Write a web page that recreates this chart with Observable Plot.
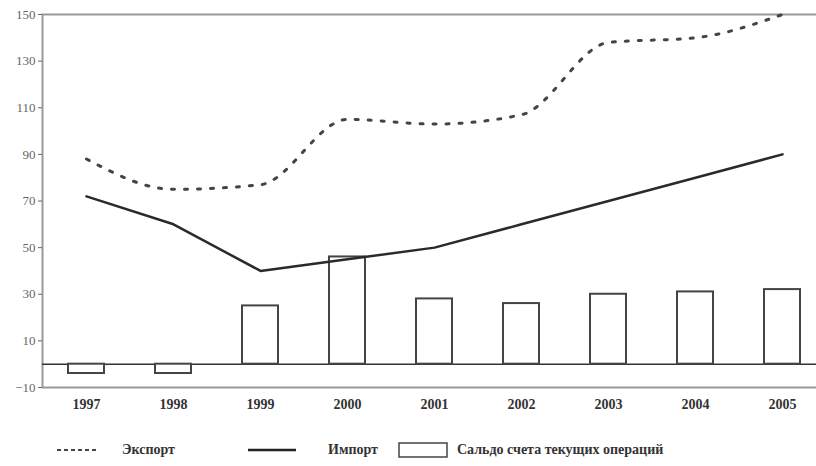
<!DOCTYPE html>
<html><head><meta charset="utf-8">
<script src="https://cdn.jsdelivr.net/npm/d3@7"></script>
<script src="https://cdn.jsdelivr.net/npm/@observablehq/plot@0.6"></script>
<style>
html,body{margin:0;padding:0;background:#fff;overflow:hidden;width:816px;height:466px}
#wrap{position:relative;width:816px;height:466px;overflow:hidden}
#legend{position:absolute;top:425px;left:0;width:816px;height:41px;font-family:"Liberation Serif",serif;font-weight:bold;font-size:14px;color:#333}
#legend .it{position:absolute;top:17px;line-height:16px;white-space:nowrap}
#legend svg{position:absolute;overflow:visible}
</style></head><body>
<div id="wrap"><div id="chart"></div><div id="legend"></div></div>
<script>
const years = ["1997","1998","1999","2000","2001","2002","2003","2004","2005"];
const exportValues = [88, 75, 77, 105, 103, 107, 138, 140, 150];
const importValues = [72, 60, 40, 45, 50, 60, 70, 80, 90];
const balanceValues = [-4, -4, 25, 46, 28, 26, 30, 31, 32];
const yTicks = [-10, 10, 30, 50, 70, 90, 110, 130, 150];
const legendLabels = ["Экспорт", "Импорт", "Сальдо счета текущих операций"];

const rows = years.map((year, i) => ({year, exp: exportValues[i], imp: importValues[i], bal: balanceValues[i]}));

const plot = Plot.plot({
  width: 816, height: 425,
  marginLeft: 42, marginRight: -9, marginTop: 14, marginBottom: 38,
  style: {fontFamily: "Liberation Serif, serif", background: "transparent"},
  x: {type: "band", domain: years, paddingInner: 0.59, paddingOuter: 0.295, label: null},
  y: {domain: [-10, 150], label: null},
  marks: [
    Plot.frame({stroke: "#999", strokeWidth: 2}),
    Plot.ruleY([0], {stroke: "#333", strokeWidth: 1.5}),
    Plot.barY(rows, {x: "year", y: "bal", fill: "white", stroke: "#444", strokeWidth: 2}),
    Plot.line(rows, {x: "year", y: "imp", stroke: "#2a2a2a", strokeWidth: 2.5}),
    Plot.line(rows, {x: "year", y: "exp", stroke: "#444", strokeWidth: 3, strokeDasharray: "3,10", curve: "monotone-x"}),
    Plot.axisY({ticks: yTicks, tickSize: 4, tickPadding: 3, fontSize: 13, color: "#666", label: null}),
    Plot.axisX({tickSize: 0, tickPadding: 12, fontSize: 14, fontWeight: "bold", color: "#333", label: null})
  ]
});
document.getElementById("chart").appendChild(plot);

const lg = document.getElementById("legend");
lg.innerHTML = `
<svg style="left:57px;top:25px" width="42" height="1"><line x1="0" y1="0" x2="42" y2="0" stroke="#444" stroke-width="2" stroke-dasharray="4,3"/></svg>
<div class="it" style="left:122px">${legendLabels[0]}</div>
<svg style="left:248px;top:25px" width="48" height="1"><line x1="0" y1="0" x2="48" y2="0" stroke="#222" stroke-width="2.5"/></svg>
<div class="it" style="left:328px">${legendLabels[1]}</div>
<svg style="left:399px;top:18px" width="48" height="14"><rect x="0" y="0" width="48" height="14" fill="white" stroke="#444" stroke-width="1.5"/></svg>
<div class="it" style="left:457px">${legendLabels[2]}</div>`;
</script>
</body></html>
